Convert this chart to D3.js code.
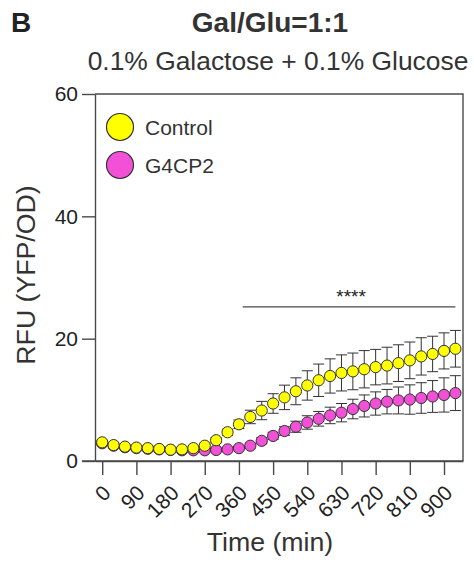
<!DOCTYPE html>
<html>
<head>
<meta charset="utf-8">
<script src="https://cdn.jsdelivr.net/npm/d3@7"></script>
<style>
  body { margin: 0; background: #fff; }
  svg { display: block; font-family: "Liberation Sans", Arial, sans-serif; }
</style>
</head>
<body>
<svg id="chart" width="474" height="563"></svg>
<script>
// ---- data ----
const times = d3.range(0, 931, 30); // 0..930 min, every 30 min
const xTickValues = [0, 90, 180, 270, 360, 450, 540, 630, 720, 810, 900];
const yTickValues = [0, 20, 40, 60];

const controlMean = [3.05, 2.6, 2.35, 2.2, 2.1, 1.97, 1.85, 1.9, 2.1, 2.5, 3.4, 4.7, 6.0, 7.2, 8.25, 9.4,
  10.4, 11.4, 12.35, 13.2, 13.9, 14.4, 14.65, 15.0, 15.35, 15.6, 16.0, 16.45, 17.1, 17.5, 18.0, 18.35];
const controlErr = [0.3, 0.3, 0.3, 0.3, 0.3, 0.3, 0.3, 0.3, 0.3, 0.3, 0.4, 0.5, 0.7, 1.1, 1.5, 1.6,
  2.0, 2.2, 2.4, 2.65, 2.8, 2.95, 3.0, 3.05, 2.9, 3.0, 3.0, 3.0, 3.05, 2.9, 2.95, 3.0];

const g4cp2Mean = [2.9, 2.5, 2.25, 2.1, 2.0, 1.9, 1.8, 1.75, 1.75, 1.75, 1.8, 1.9, 2.1, 2.5, 3.3, 4.1,
  4.9, 5.6, 6.3, 6.9, 7.45, 7.9, 8.5, 9.0, 9.4, 9.7, 9.9, 10.05, 10.3, 10.55, 10.8, 11.1];
const g4cp2Err = [0.3, 0.3, 0.3, 0.3, 0.3, 0.3, 0.3, 0.3, 0.3, 0.3, 0.3, 0.3, 0.3, 0.4, 0.5, 0.6,
  0.7, 0.9, 1.1, 1.2, 1.35, 1.5, 1.6, 1.8, 1.9, 2.0, 2.2, 2.4, 2.5, 2.6, 2.8, 2.85];

const seriesNames = ["Control", "G4CP2"];
const seriesColors = ["#ffff00", "#f250d6"];
const sigRange = [370, 930];
const sigValue = 25.2;
const sigLabel = "****";

// ---- layout ----
const svg = d3.select("#chart");
const pLeft = 95, pRight = 463, pTop = 94, pBottom = 461;
const x = d3.scaleLinear().domain([-19, 950]).range([pLeft, pRight]);
const y = d3.scaleLinear().domain([0, 60]).range([pBottom, pTop]);
const axisColor = "#4a4a4a";
const FONT = "Liberation Sans, Arial, sans-serif";

// titles
svg.append("text").attr("x", 11).attr("y", 32).attr("font-size", 28).attr("font-weight", "bold")
  .attr("fill", "#222").text("B");
svg.append("text").attr("x", 270).attr("y", 32).attr("text-anchor", "middle").attr("font-size", 28)
  .attr("font-weight", "bold").attr("fill", "#333").text("Gal/Glu=1:1");
svg.append("text").attr("x", 278).attr("y", 70).attr("text-anchor", "middle").attr("font-size", 26.4)
  .attr("fill", "#333").text("0.1% Galactose + 0.1% Glucose");

// frame (top and right)
svg.append("path").attr("d", `M${pLeft},${pTop}H${pRight}V${pBottom}`)
  .attr("fill", "none").attr("stroke", axisColor).attr("stroke-width", 1.4);

// y axis
const yAxis = svg.append("g").attr("transform", `translate(${pLeft},0)`)
  .call(d3.axisLeft(y).tickValues(yTickValues).tickSize(13).tickSizeOuter(0).tickPadding(4));
yAxis.selectAll("text").attr("font-size", 21).attr("fill", "#222").attr("font-family", FONT);

// x axis
const xAxis = svg.append("g").attr("transform", `translate(0,${pBottom})`)
  .call(d3.axisBottom(x).tickValues(xTickValues).tickSize(14).tickSizeOuter(0).tickFormat(d3.format("d")));
xAxis.selectAll("text")
  .attr("font-size", 21).attr("fill", "#222").attr("font-family", FONT)
  .attr("text-anchor", "end")
  .attr("y", 0).attr("dy", "0.35em")
  .attr("transform", "translate(4,28) rotate(-45)");
// extend x axis line to the left to meet y tick at zero
svg.append("line").attr("x1", pLeft - 13).attr("x2", pRight).attr("y1", pBottom).attr("y2", pBottom)
  .attr("stroke", axisColor).attr("stroke-width", 1.4);
[yAxis, xAxis].forEach(a => {
  a.selectAll(".domain").attr("stroke", axisColor).attr("stroke-width", 1.4);
  a.selectAll(".tick line").attr("stroke", axisColor).attr("stroke-width", 1.4);
});

// axis titles
svg.append("text").attr("x", 270).attr("y", 551).attr("text-anchor", "middle")
  .attr("font-size", 26.7).attr("fill", "#333").text("Time (min)");
svg.append("text").attr("transform", "translate(35,275) rotate(-90)").attr("text-anchor", "middle")
  .attr("font-size", 26.7).attr("fill", "#333").text("RFU (YFP/OD)");

// significance
svg.append("line").attr("x1", x(sigRange[0])).attr("x2", x(sigRange[1]))
  .attr("y1", y(sigValue)).attr("y2", y(sigValue)).attr("stroke", axisColor).attr("stroke-width", 1.3);
svg.append("text").attr("x", (x(sigRange[0]) + x(sigRange[1])) / 2 + 2).attr("y", y(sigValue) - 4)
  .attr("text-anchor", "middle").attr("font-size", 19).attr("fill", "#222").text(sigLabel);

// series
const series = [
  { name: seriesNames[1], color: seriesColors[1], mean: g4cp2Mean, err: g4cp2Err },
  { name: seriesNames[0], color: seriesColors[0], mean: controlMean, err: controlErr }
];
const capW = 5.5, r = 5.6;
series.forEach(s => {
  const data = times.map((t, i) => ({ t, m: s.mean[i], e: s.err[i] }));
  const g = svg.append("g");
  const eb = g.selectAll("g.eb").data(data).join("g").attr("class", "eb")
    .attr("stroke", "#333").attr("stroke-width", 1);
  eb.append("line").attr("x1", d => x(d.t)).attr("x2", d => x(d.t))
    .attr("y1", d => y(d.m + d.e)).attr("y2", d => y(d.m - d.e));
  eb.append("line").attr("x1", d => x(d.t) - capW).attr("x2", d => x(d.t) + capW)
    .attr("y1", d => y(d.m + d.e)).attr("y2", d => y(d.m + d.e));
  eb.append("line").attr("x1", d => x(d.t) - capW).attr("x2", d => x(d.t) + capW)
    .attr("y1", d => y(d.m - d.e)).attr("y2", d => y(d.m - d.e));
  g.selectAll("circle").data(data).join("circle")
    .attr("cx", d => x(d.t)).attr("cy", d => y(d.m)).attr("r", r)
    .attr("fill", s.color).attr("stroke", "#333").attr("stroke-width", 1);
});

// legend
const legend = svg.append("g");
seriesNames.forEach((n, i) => {
  const ly = 127 + i * 38;
  legend.append("circle").attr("cx", 120).attr("cy", ly).attr("r", 13.5)
    .attr("fill", seriesColors[i]).attr("stroke", "#333").attr("stroke-width", 1.2);
  legend.append("text").attr("x", 145).attr("y", ly + 7.5).attr("font-size", 21)
    .attr("fill", "#333").text(n);
});
</script>
</body>
</html>
